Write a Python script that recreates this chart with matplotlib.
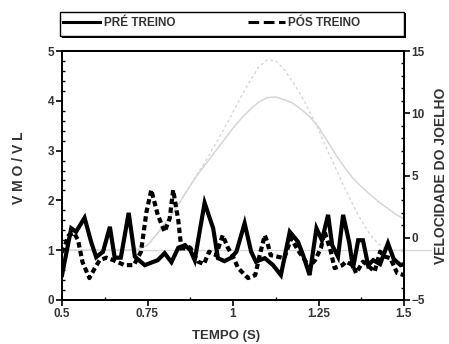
import matplotlib
matplotlib.use("Agg")
import matplotlib.pyplot as plt
from matplotlib.ticker import MultipleLocator, FixedLocator, FixedFormatter
from matplotlib.lines import Line2D
from matplotlib.patches import Rectangle

plt.rcParams['font.family'] = ['Liberation Sans', 'DejaVu Sans']
plt.rcParams['font.weight'] = 'bold'

# EMG ratio VMO/VL (left axis)
pre_t = [0.500, 0.527, 0.541, 0.566, 0.585, 0.600, 0.620, 0.640, 0.654, 0.672,
         0.695, 0.713, 0.742, 0.780, 0.800, 0.820, 0.840, 0.860, 0.875, 0.888,
         0.917, 0.942, 0.956, 0.975, 0.995, 1.010, 1.034, 1.053, 1.067, 1.093,
         1.117, 1.140, 1.166, 1.190, 1.205, 1.224, 1.244, 1.260, 1.278, 1.290,
         1.307, 1.322, 1.340, 1.351, 1.366, 1.380, 1.395, 1.410, 1.430, 1.453,
         1.470, 1.490, 1.500]
pre_v = [0.50, 1.44, 1.37, 1.65, 1.17, 0.86, 0.97, 1.47, 0.85, 0.85,
         1.75, 0.87, 0.70, 0.80, 0.94, 0.76, 1.05, 1.10, 1.00, 0.80,
         1.95, 1.44, 0.84, 0.78, 0.85, 0.97, 1.54, 0.97, 0.77, 0.84,
         0.70, 0.50, 1.37, 1.17, 0.90, 0.50, 1.44, 1.20, 1.71, 1.10,
         0.87, 1.71, 1.15, 0.64, 1.20, 1.20, 0.70, 0.80, 0.72, 1.14,
         0.82, 0.70, 0.72]

post_t = [0.500, 0.520, 0.535, 0.547, 0.560, 0.580, 0.596, 0.610, 0.630, 0.650,
          0.683, 0.710, 0.731, 0.747, 0.761, 0.780, 0.800, 0.815, 0.825, 0.840,
          0.850, 0.860, 0.875, 0.898, 0.915, 0.930, 0.950, 0.970, 0.985, 0.998,
          1.015, 1.044, 1.065, 1.078, 1.093, 1.100, 1.110, 1.130, 1.150, 1.170,
          1.190, 1.213, 1.220, 1.240, 1.257, 1.268, 1.285, 1.297, 1.320, 1.330,
          1.350, 1.360, 1.380, 1.390, 1.414, 1.430, 1.445, 1.460, 1.480, 1.500]
post_v = [0.95, 1.30, 1.35, 1.20, 0.76, 0.44, 0.64, 0.80, 0.85, 0.80,
          0.70, 0.70, 0.97, 1.77, 2.21, 1.71, 1.37, 1.64, 2.21, 1.60,
          0.97, 1.10, 1.05, 0.77, 0.72, 0.97, 0.90, 1.30, 1.05, 0.90,
          0.64, 0.44, 0.50, 0.90, 1.30, 1.17, 0.90, 0.87, 0.84, 1.24,
          1.00, 0.77, 0.64, 0.80, 1.04, 1.37, 1.00, 0.64, 0.70, 0.77,
          0.70, 0.54, 0.77, 0.72, 0.57, 0.97, 0.87, 0.84, 0.54, 0.50]

# Knee velocity (right axis)
vel_t = [0.500, 0.600, 0.700, 0.725, 0.750, 0.775, 0.800, 0.825, 0.850, 0.875,
         0.900, 0.925, 0.950, 0.975, 1.000, 1.025, 1.050, 1.075, 1.100, 1.125,
         1.150, 1.175, 1.200, 1.225, 1.250, 1.275, 1.300, 1.325, 1.350, 1.375,
         1.400, 1.425, 1.450, 1.475, 1.500]
vel_pre = [-1.0, -1.0, -1.0, -0.9, -0.6, 0.2, 1.1, 2.0, 3.1, 4.2,
           5.2, 6.1, 7.0, 7.9, 8.8, 9.6, 10.3, 10.9, 11.25, 11.3,
           11.1, 10.8, 10.3, 9.7, 8.9, 7.8, 6.7, 5.7, 4.8, 4.1,
           3.5, 2.9, 2.4, 1.9, 1.5]
vel_post = [-1.0, -1.0, -1.0, -0.9, -0.6, 0.2, 1.1, 2.0, 3.1, 4.2,
            5.3, 6.4, 7.6, 8.8, 10.1, 11.4, 12.6, 13.7, 14.3, 14.2,
            13.5, 12.5, 11.4, 10.1, 8.7, 7.1, 5.6, 4.1, 2.7, 1.4,
            0.3, -0.5, -0.9, -1.0, -1.0]
vel_base = -1.0

x_ticks = [0.5, 0.75, 1, 1.25, 1.5]
x_labels = ['0.5', '0.75', '1', '1.25', '1.5']

W, H = 449, 344
fig = plt.figure(figsize=(W / 100, H / 100), dpi=100)
ax = fig.add_axes([62 / W, 1 - 300 / H, 342 / W, 249 / H])
ax2 = ax.twinx()
ax.set_zorder(ax2.get_zorder() + 1)
ax.patch.set_visible(False)

gray = '#d6d6d6'
ax2.axhline(vel_base, color=gray, lw=0.9, xmin=0, xmax=1.08, clip_on=False)
ax2.plot(vel_t, vel_pre, color=gray, lw=1.1)
ax2.plot(vel_t, vel_post, color=gray, lw=1.0, ls=(0, (2, 2)))
ax2.set_ylim(-5, 15)

ax.plot(pre_t, pre_v, color='black', lw=3.0, solid_joinstyle='miter')
ax.plot(post_t, post_v, color='black', lw=3.0, ls=(0, (1.3, 0.8)))
ax.set_xlim(0.5, 1.5)
ax.set_ylim(0, 5)

ax.xaxis.set_major_locator(FixedLocator(x_ticks))
ax.xaxis.set_major_formatter(FixedFormatter(x_labels))
ax.xaxis.set_minor_locator(MultipleLocator(0.125))
ax.yaxis.set_major_locator(MultipleLocator(1))
ax.yaxis.set_minor_locator(MultipleLocator(0.2))
ax2.yaxis.set_major_locator(MultipleLocator(5))
ax2.yaxis.set_minor_locator(MultipleLocator(1))

for a in (ax, ax2):
    for s in a.spines.values():
        s.set_linewidth(1.4)
    a.tick_params(which='major', direction='out', length=4, width=1.2,
                  labelsize=8.5, pad=1.5)
    a.tick_params(which='minor', direction='in', length=2.5, width=1.0)
ax.tick_params(axis='x', which='both', top=False)
for lab in ax.get_xticklabels() + ax.get_yticklabels() + ax2.get_yticklabels():
    lab.set_fontweight('bold')
    lab.set_color('#333333')

fig.text(226 / W, 1 - 336 / H, 'TEMPO (S)', ha='center', va='center',
         fontsize=9.5, fontweight='bold', color='#333333')
fig.text(19 / W, 1 - 168 / H, 'V M O / V L', ha='center', va='center',
         rotation=90, fontsize=10, fontweight='bold', color='#333333')
fig.text(441 / W, 1 - 176 / H, 'VELOCIDADE DO JOELHO', ha='center', va='center',
         rotation=90, fontsize=10, fontweight='bold', color='#333333')

# legend box with a thin shadow
fig.patches.append(Rectangle((61.5 / W, 1 - 37.5 / H), 344.5 / W, 24 / H,
                             transform=fig.transFigure, facecolor='black',
                             edgecolor='none', zorder=1))
fig.patches.append(Rectangle((60 / W, 1 - 36 / H), 344 / W, 24 / H,
                             transform=fig.transFigure, facecolor='white',
                             edgecolor='black', lw=1.0, zorder=2))

handles = [Line2D([], [], color='black', lw=2.2),
           Line2D([], [], color='black', lw=2.2, ls=(0, (3.5, 1.5)))]
leg = fig.legend(handles, ['PRÉ TREINO', 'PÓS TREINO'], ncol=2,
                 loc='center left', bbox_to_anchor=(61 / W, 1 - 23 / H),
                 frameon=False, handlelength=3.1, handletextpad=0.3,
                 columnspacing=6.2, borderpad=0.2,
                 prop={'weight': 'bold', 'size': 8.5}, borderaxespad=0)
leg.set_zorder(3)
for t in leg.get_texts():
    t.set_color('#333333')

fig.savefig('out.png', dpi=100)
